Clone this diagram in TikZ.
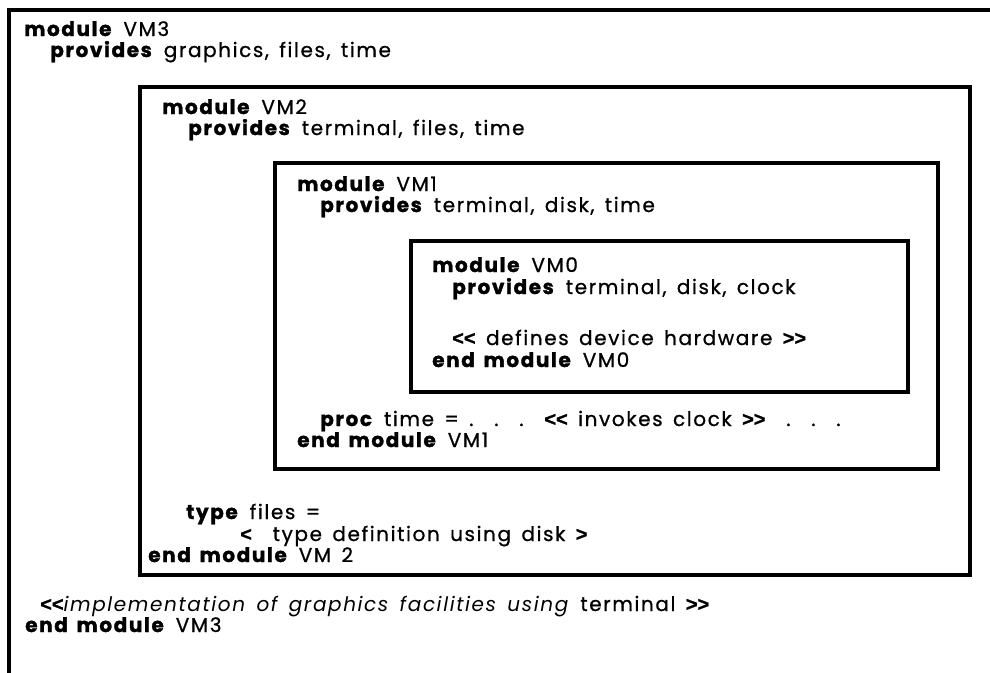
\documentclass[tikz,border=0pt]{standalone}
\usepackage{fontspec}
\setmainfont{Poppins}[LetterSpace=8, WordSpace=1.5,
  UprightFeatures={FakeBold=0.8}, BoldFeatures={FakeBold=1.4}]
\newfontfamily\chevfont{Liberation Sans}[FakeBold=1]
\usepackage{tikz}
\tikzstyle{box} = [line width=2.5pt]
\tikzstyle{src} = [anchor=base west, inner sep=0pt, font=\fontsize{15}{18}\selectfont]
\newcommand{\kw}[1]{\textbf{#1}}
\newcommand{\ltsign}{{\chevfont\bfseries <}}
\newcommand{\gtsign}{{\chevfont\bfseries >}}
\newcommand{\dotdot}{.\ \ .\ \ .}

\begin{document}
\begin{tikzpicture}[x=0.75pt, y=-0.75pt]
\useasboundingbox (0,0) rectangle (990,672);
\clip (0,0) rectangle (990,672);

    % the four nested modules
    \draw[box] (9,10) rectangle (1010,700);
    \draw[box] (140,87) rectangle (970,575);
    \draw[box] (275,163) rectangle (938,469);
    \draw[box] (411,241) rectangle (908,392);

    % VM3
    \node[src] (m3) at (24,36) {\kw{module} VM3};
    \node[src] (p3) at (50,57) {\kw{provides} graphics, files, time};
    \node[src] (impl3) at (40,611) {\ltsign\ltsign\textit{implementation of graphics facilities using} terminal \gtsign\gtsign};
    \node[src] (e3) at (25,632) {\kw{end module} VM3};

    % VM2
    \node[src] (m2) at (162,114) {\kw{module} VM2};
    \node[src] (p2) at (188,135) {\kw{provides} terminal, files, time};
    \node[src] (t2) at (186,519) {\kw{type} files =};
    \node[src] (d2) at (240,541) {\ltsign\ \ type definition using disk \gtsign};
    \node[src] (e2) at (148,562) {\kw{end module} VM 2};

    % VM1
    \node[src] (m1) at (297,191) {\kw{module} VM1};
    \node[src] (p1) at (320,212) {\kw{provides} terminal, disk, time};
    \node[src] (pr1) at (320,426) {\kw{proc} time = \dotdot\ \ \ltsign\ltsign\ invokes clock \gtsign\gtsign\ \ \dotdot};
    \node[src] (e1) at (297,447) {\kw{end module} VM1};

    % VM0
    \node[src] (m0) at (432,272) {\kw{module} VM0};
    \node[src] (p0) at (452,294) {\kw{provides} terminal, disk, clock};
    \node[src] (h0) at (452,345) {\ltsign\ltsign\ defines device hardware \gtsign\gtsign};
    \node[src] (e0) at (432,367) {\kw{end module} VM0};
\end{tikzpicture}
\end{document}
